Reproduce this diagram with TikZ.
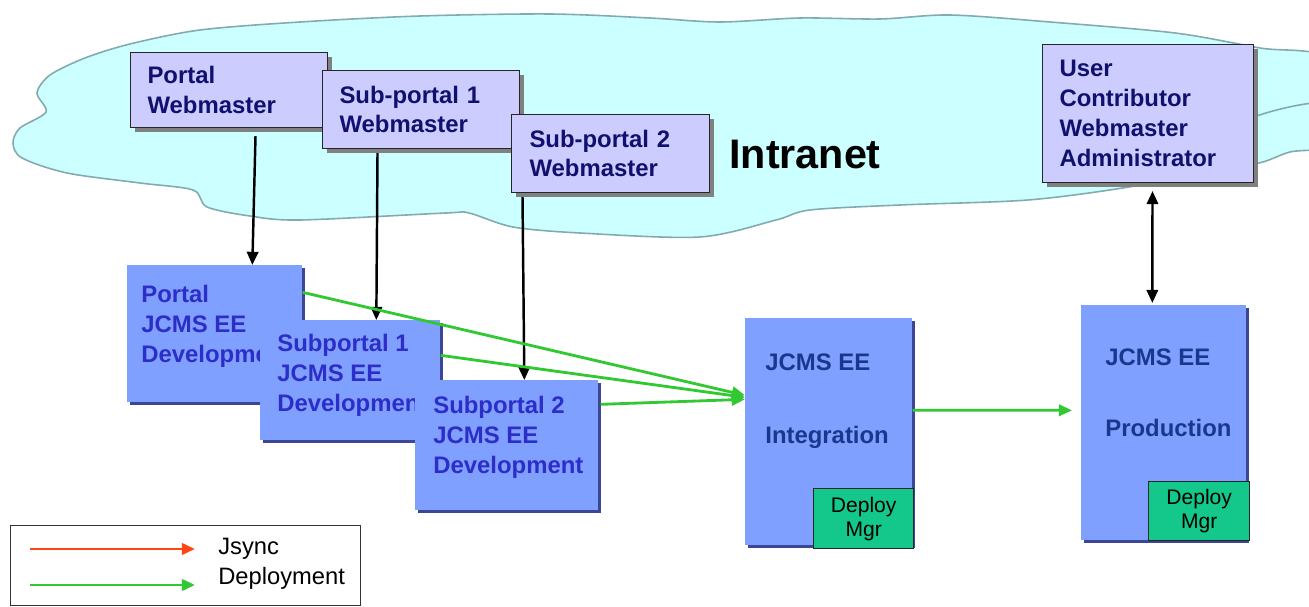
\documentclass[tikz,border=0pt]{standalone}
\usepackage{fontspec}
\setmainfont{Liberation Sans}
\usetikzlibrary{arrows.meta,shadows}
\definecolor{cloudfill}{RGB}{204,255,255}
\definecolor{cloudline}{RGB}{130,170,175}
\definecolor{wmfill}{RGB}{204,204,255}
\definecolor{wmtext}{RGB}{16,16,110}
\definecolor{devfill}{RGB}{128,160,255}
\definecolor{devshadow}{RGB}{60,70,150}
\definecolor{devtext}{RGB}{45,45,200}
\definecolor{envtext}{RGB}{25,55,140}
\definecolor{mgrfill}{RGB}{20,200,140}
\definecolor{arrgreen}{RGB}{50,200,50}
\definecolor{arrred}{RGB}{255,70,20}
\newcommand\bxfont{\bfseries\fontsize{13.6}{17}\selectfont}
\tikzset{
  wmbox/.style={draw=black!85, line width=0.6pt, fill=wmfill, text=wmtext, font=\bxfont,
    align=left, anchor=north west, inner ysep=0pt, inner xsep=0.34cm,
    drop shadow={shadow xshift=2.3pt,shadow yshift=-2.3pt,fill=black!50,opacity=1}},
  devbox/.style={fill=devfill, anchor=north west, inner sep=0pt,
    drop shadow={shadow xshift=1.7pt,shadow yshift=-1.7pt,fill=devshadow,opacity=1}},
  devlabel/.style={text=devtext, font=\bxfont, align=left, anchor=west, inner sep=0pt},
  envlabel/.style={text=envtext, font=\bxfont, anchor=base west, inner sep=0pt},
  mgrbox/.style={draw=black!85, line width=0.8pt, fill=mgrfill, anchor=north west, inner sep=0pt,
    align=center, font=\fontsize{12}{13.6}\selectfont, minimum width=2cm},
  blkarrow/.style={line width=1.4pt, -{Triangle[length=7.5pt,width=6.5pt]}},
  grnarrow/.style={arrgreen, line width=1.6pt, -{Triangle[length=7.5pt,width=6.5pt]}},
}
\begin{document}
\begin{tikzpicture}[x=0.02cm,y=-0.02cm]
\path[use as bounding box, fill=white] (0,0) rectangle (1309,607);
\clip (0,0) rectangle (1309,607);

% cloud
\draw[cloudline, fill=cloudfill, line width=0.9pt] plot[smooth cycle, tension=0.5] coordinates {
 (13,143) (20,128) (46,112) (37,93) (50,75) (85,58) (130,44) (200,30) (300,22) (420,16)
 (550,14) (650,18) (720,22) (800,18) (880,19) (950,15) (1050,22) (1175,33) (1260,48)
 (1330,60) (1345,140) (1290,152) (1259,163) (1200,172) (1129,187) (1028,200) (900,205)
 (810,210) (776,220) (700,237) (580,233) (513,227) (469,213) (446,213) (300,220)
 (250,216) (207,207) (193,190) (140,183) (67,173) (22,158)};
\draw[cloudline, line width=0.9pt] (1240,122) .. controls (1265,112) and (1290,106) .. (1312,103);

\node[font=\bfseries\fontsize{23.5}{28}\selectfont] (intranet) at (805,155) {Intranet};

% webmaster boxes
\node[wmbox, text width=3.26cm, minimum height=1.5cm] (pw) at (130,52) {Portal\\Webmaster};
\node[wmbox, text width=3.26cm, minimum height=1.56cm] (s1w) at (322,70) {Sub-portal 1\\Webmaster};
\node[wmbox, text width=3.24cm, minimum height=1.56cm, inner xsep=0.36cm] (s2w) at (511,114) {Sub-portal 2\\Webmaster};
\node[wmbox, text width=3.54cm, minimum height=2.76cm] (ub) at (1042,44) {User\\Contributor\\Webmaster\\Administrator};

% development boxes
\node[devbox, minimum width=3.5cm, minimum height=2.74cm] (pd) at (127,265) {};
\node[devlabel] (pdt) at (141,326) {Portal\\JCMS EE\\Development};
\node[devbox, minimum width=3.6cm, minimum height=2.4cm] (s1d) at (260,320) {};
\node[devlabel] (s1dt) at (277,375) {Subportal 1\\JCMS EE\\Development};
\node[devbox, minimum width=3.66cm, minimum height=2.6cm] (s2d) at (415,380) {};
\node[devlabel] (s2dt) at (433,437) {Subportal 2\\JCMS EE\\Development};

% integration
\node[devbox, minimum width=3.34cm, minimum height=4.54cm] (intg) at (745,318) {};
\node[envlabel] (intg1) at (765,371) {JCMS EE};
\node[envlabel] (intg2) at (765,444) {Integration};
\node[mgrbox, minimum height=1.2cm] (mgr1) at (813,488) {Deploy\\Mgr};

% production
\node[devbox, minimum width=3.3cm, minimum height=4.7cm] (prod) at (1081,305) {};
\node[envlabel] (prod1) at (1105,366) {JCMS EE};
\node[envlabel] (prod2) at (1105,437) {Production};
\node[mgrbox, minimum width=2.02cm, minimum height=1.18cm] (mgr2) at (1148,481) {Deploy\\Mgr};

% black arrows
\draw[blkarrow] ([shift={(26.5,8)}]pw.south) -- ([shift={(37.5,0)}]pd.north);
\draw[blkarrow] ([shift={(-43.5,4)}]s1w.south) -- ([shift={(26,0)}]s1d.north);
\draw[blkarrow] ([shift={(-88,4)}]s2w.south) -- ([shift={(17.5,0)}]s2d.north);
\draw[line width=1.4pt, {Triangle[length=7.5pt,width=6.5pt]}-{Triangle[length=7.5pt,width=6.5pt]}]
  ([shift={(4.5,8)}]ub.south) -- ([shift={(-11.5,-2)}]prod.north);

% green arrows
\draw[grnarrow] ([shift={(0,-41.5)}]pd.east) -- ([shift={(0,-36.5)}]intg.west);
\draw[grnarrow] ([shift={(0,-25)}]s1d.east) -- ([shift={(0,-34.5)}]intg.west);
\draw[grnarrow] ([shift={(2,-41)}]s2d.east) -- ([shift={(0,-32.5)}]intg.west);
\draw[grnarrow] ([shift={(0,-21.5)}]intg.east) -- ([shift={(-9,-12.5)}]prod.west);

% legend
\node[draw=black!80, line width=0.8pt, anchor=north west, minimum width=7cm, minimum height=1.6cm, inner sep=0pt] (legend) at (10,525) {};
\coordinate (r1) at (30,549);
\coordinate (r2) at (195,549);
\coordinate (g1) at (30,585);
\coordinate (g2) at (195,585);
\draw[arrred, line width=1.6pt, -{Triangle[length=7.5pt,width=6.5pt]}] (r1) -- (r2);
\draw[grnarrow] (g1) -- (g2);
\node[anchor=west, inner sep=0pt, font=\fontsize{13.5}{16}\selectfont] (ljs) at (218,549) {Jsync};
\node[anchor=west, inner sep=0pt, font=\fontsize{13.5}{16}\selectfont] (ldp) at (218,578) {Deployment};
\end{tikzpicture}
\end{document}
